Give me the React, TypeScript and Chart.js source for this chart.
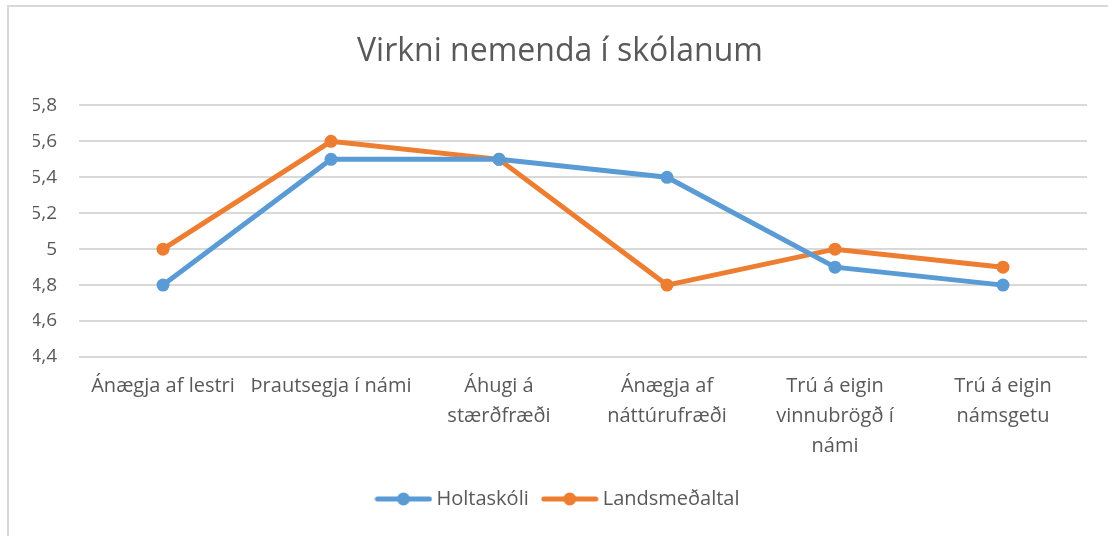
import React, { useEffect, useRef } from "react";
import { Chart, registerables } from "chart.js";

Chart.register(...registerables);

const categories: (string | string[])[] = [
  "Ánægja af lestri",
  "Þrautsegja í námi",
  ["Áhugi á", "stærðfræði"],
  ["Ánægja af", "náttúrufræði"],
  ["Trú á eigin", "vinnubrögð í", "námi"],
  ["Trú á eigin", "námsgetu"],
];
const holtaskoli = [4.8, 5.5, 5.5, 5.4, 4.9, 4.8];
const landsmedaltal = [5.0, 5.6, 5.5, 4.8, 5.0, 4.9];
const seriesNames = ["Holtaskóli", "Landsmeðaltal"];
const yMin = 4.4;
const yMax = 5.8;
const yStep = 0.2;
const titleText = "Virkni nemenda í skólanum";

const BLUE = "#5B9BD5";
const ORANGE = "#ED7D31";
const TEXT = "#595959";
const GRID = "#D9D9D9";
const FONT = "'Open Sans', sans-serif";

function legendIcon(color: string) {
  const c = document.createElement("canvas");
  c.width = 58;
  c.height = 14;
  const ctx = c.getContext("2d")!;
  ctx.strokeStyle = color;
  ctx.lineWidth = 5;
  ctx.lineCap = "round";
  ctx.beginPath();
  ctx.moveTo(3, 7);
  ctx.lineTo(55, 7);
  ctx.stroke();
  ctx.fillStyle = color;
  ctx.beginPath();
  ctx.arc(29, 7, 6.5, 0, Math.PI * 2);
  ctx.fill();
  return c;
}

export default function App() {
  const ref = useRef<HTMLCanvasElement>(null);
  useEffect(() => {
    const icons = [legendIcon(BLUE), legendIcon(ORANGE)];
    const chart = new Chart(ref.current!, {
      type: "line",
      data: {
        labels: categories,
        datasets: [
          {
            label: seriesNames[0],
            data: holtaskoli,
            borderColor: BLUE,
            backgroundColor: BLUE,
            borderWidth: 5,
            pointRadius: 6.5,
            pointHoverRadius: 6.5,
            pointBorderWidth: 0,
            tension: 0,
          },
          {
            label: seriesNames[1],
            data: landsmedaltal,
            borderColor: ORANGE,
            backgroundColor: ORANGE,
            borderWidth: 5,
            pointRadius: 6.5,
            pointHoverRadius: 6.5,
            pointBorderWidth: 0,
            tension: 0,
          },
        ],
      },
      options: {
        animation: false,
        responsive: false,
        maintainAspectRatio: false,
        layout: { padding: { left: 33, right: 21, top: 0, bottom: 17 } },
        plugins: {
          tooltip: { enabled: false },
          title: {
            display: true,
            text: titleText,
            color: TEXT,
            font: { family: FONT, size: 32, weight: "normal" as any, lineHeight: 1.2 },
            padding: { top: 33, bottom: 34 },
          },
          legend: {
            position: "bottom",
            labels: {
              color: TEXT,
              font: { family: FONT, size: 20 },
              usePointStyle: true,
              pointStyleWidth: 46,
              boxHeight: 14,
              padding: 18,
              generateLabels: (ch: any) => {
                const items = Chart.defaults.plugins.legend.labels.generateLabels(ch);
                items.forEach((it: any, i: number) => {
                  it.pointStyle = icons[i];
                });
                return items;
              },
            },
          },
        },
        scales: {
          x: {
            offset: true,
            grid: { display: false, drawTicks: false },
            border: { display: false },
            ticks: {
              color: TEXT,
              font: { family: FONT, size: 20, lineHeight: 1.5 },
              padding: 14,
              maxRotation: 0,
              autoSkip: false,
            },
            afterFit: (s: any) => {
              s.height = 114;
            },
          },
          y: {
            min: yMin,
            max: yMax,
            grid: { color: GRID, lineWidth: 2, drawTicks: false },
            border: { display: false },
            ticks: {
              stepSize: yStep,
              color: TEXT,
              font: { family: FONT, size: 19 },
              padding: 22,
              callback: (v: any) => String(Number(Number(v).toFixed(1))).replace(".", ","),
            },
            afterFit: (s: any) => {
              s.width = 46;
            },
          },
        },
      },
    });
    return () => chart.destroy();
  }, []);
  return (
    <div style={{ position: "fixed", left: 0, top: 0, width: 1108, height: 536, background: "#fff" }}>
      <div
        style={{
          position: "absolute",
          left: 7,
          top: 5,
          right: 0,
          bottom: 0,
          borderTop: "2px solid #D9D9D9",
          borderLeft: "2px solid #D9D9D9",
        }}
      />
      <canvas ref={ref} width={1108} height={536} style={{ position: "absolute", left: 0, top: 0 }} />
    </div>
  );
}
